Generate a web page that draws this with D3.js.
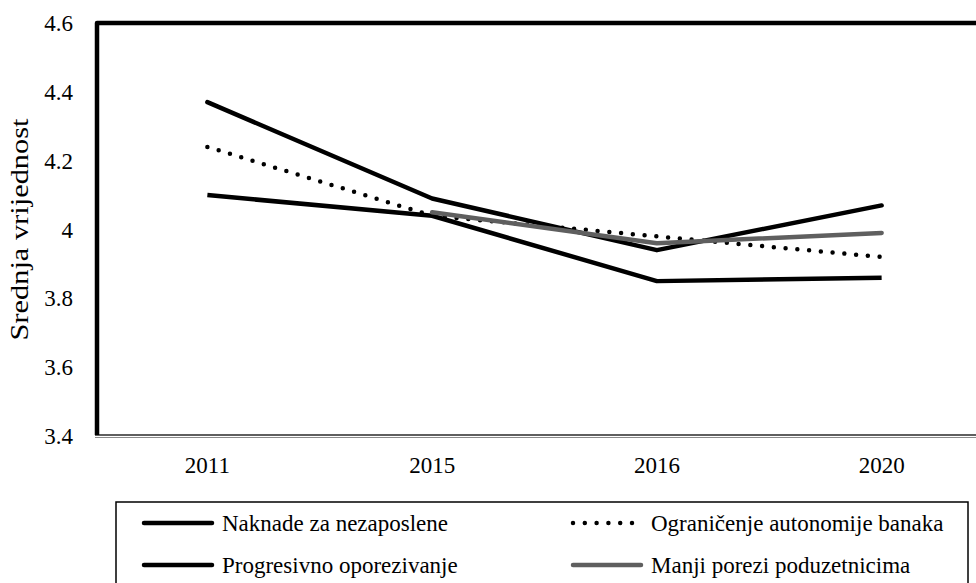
<!DOCTYPE html>
<html>
<head>
<meta charset="utf-8">
<script src="https://cdn.jsdelivr.net/npm/d3@7"></script>
<style>
  body { margin: 0; background: #fff; }
</style>
</head>
<body>
<div id="chart"></div>
<script>
// data
const years = ["2011", "2015", "2016", "2020"];
const yTicks = [3.4, 3.6, 3.8, 4, 4.2, 4.4, 4.6];
const naknade = [4.37, 4.09, 3.94, 4.07];
const ogranicenje = [4.24, 4.04, 3.98, 3.92];
const progresivno = [4.10, 4.04, 3.85, 3.86];
const manjiPorezi = [null, 4.05, 3.96, 3.99];

const seriesNames = ["Naknade za nezaposlene", "Ograničenje autonomije banaka", "Progresivno oporezivanje", "Manji porezi poduzetnicima"];
const seriesValues = [naknade, ogranicenje, progresivno, manjiPorezi];

const width = 976, height = 583;
const margin = { left: 95, top: 23, right: -18, bottom: 147 };
const font = "'Liberation Serif', 'Times New Roman', serif";

const svg = d3.select("#chart").append("svg")
    .attr("width", width)
    .attr("height", height)
    .attr("font-family", font);

const x = d3.scalePoint()
    .domain(years)
    .range([margin.left, width - margin.right])
    .padding(0.5);

const y = d3.scaleLinear()
    .domain([3.4, 4.6])
    .range([height - margin.bottom, margin.top]);

const styles = [
    { stroke: "#000", width: 4.5, dash: null, cap: "round" },
    { stroke: "#000", width: 4.5, dash: "0 11.8", cap: "round" },
    { stroke: "#000", width: 4.5, dash: null, cap: "butt" },
    { stroke: "#5f5f5f", width: 4.5, dash: null, cap: "round" }
];

// bottom axis: double thin line
const y0 = y(3.4);
svg.append("line")
    .attr("x1", margin.left).attr("x2", width)
    .attr("y1", y0 - 1).attr("y2", y0 - 1)
    .attr("stroke", "#2a2a2a").attr("stroke-width", 1.5);
svg.append("line")
    .attr("x1", margin.left).attr("x2", width)
    .attr("y1", y0 + 1.5).attr("y2", y0 + 1.5)
    .attr("stroke", "#8a8a8a").attr("stroke-width", 1);

// plot frame (left + top)
svg.append("path")
    .attr("d", `M${margin.left + 2},${y0 - 1} L${margin.left + 2},${margin.top} L${width + 10},${margin.top}`)
    .attr("fill", "none")
    .attr("stroke", "#000")
    .attr("stroke-width", 4.5)
    .attr("stroke-linejoin", "round");

// y tick labels
svg.append("g")
    .selectAll("text")
    .data(yTicks)
    .enter().append("text")
    .attr("x", 73)
    .attr("y", d => y(d))
    .attr("dy", "0.35em")
    .attr("text-anchor", "end")
    .attr("font-size", 23)
    .text(d => d);

// x labels
svg.append("g")
    .selectAll("text")
    .data(years)
    .enter().append("text")
    .attr("x", d => x(d))
    .attr("y", 473)
    .attr("text-anchor", "middle")
    .attr("font-size", 23)
    .text(d => d);

// y title
svg.append("text")
    .attr("transform", `translate(28, ${y(4)}) rotate(-90)`)
    .attr("text-anchor", "middle")
    .attr("font-size", 25)
    .attr("textLength", 222)
    .attr("lengthAdjust", "spacingAndGlyphs")
    .text("Srednja vrijednost");

// lines
const line = d3.line()
    .defined(d => d.v != null)
    .x(d => x(d.year))
    .y(d => y(d.v));

const order = [2, 0, 1, 3];
order.forEach(i => {
    const pts = years.map((yr, j) => ({ year: yr, v: seriesValues[i][j] }));
    const s = styles[i];
    svg.append("path")
        .datum(pts)
        .attr("d", line)
        .attr("fill", "none")
        .attr("stroke", s.stroke)
        .attr("stroke-width", s.width)
        .attr("stroke-linecap", s.cap)
        .attr("stroke-linejoin", "round")
        .attr("stroke-dasharray", s.dash);
});

// legend
const legend = svg.append("g");
legend.append("rect")
    .attr("x", 116).attr("y", 502)
    .attr("width", 852).attr("height", 100)
    .attr("fill", "none")
    .attr("stroke", "#000")
    .attr("stroke-width", 1.5);

const legendPos = [
    { x: 144, y: 523 },
    { x: 573, y: 523 },
    { x: 144, y: 565 },
    { x: 573, y: 565 }
];

seriesNames.forEach((name, i) => {
    const p = legendPos[i];
    const s = styles[i];
    legend.append("line")
        .attr("x1", p.x).attr("x2", p.x + 68)
        .attr("y1", p.y).attr("y2", p.y)
        .attr("stroke", s.stroke)
        .attr("stroke-width", s.width)
        .attr("stroke-linecap", "round")
        .attr("stroke-dasharray", s.dash);
    legend.append("text")
        .attr("x", p.x + 78)
        .attr("y", p.y)
        .attr("dy", "0.35em")
        .attr("font-size", 23)
        .text(name);
});
</script>
</body>
</html>
